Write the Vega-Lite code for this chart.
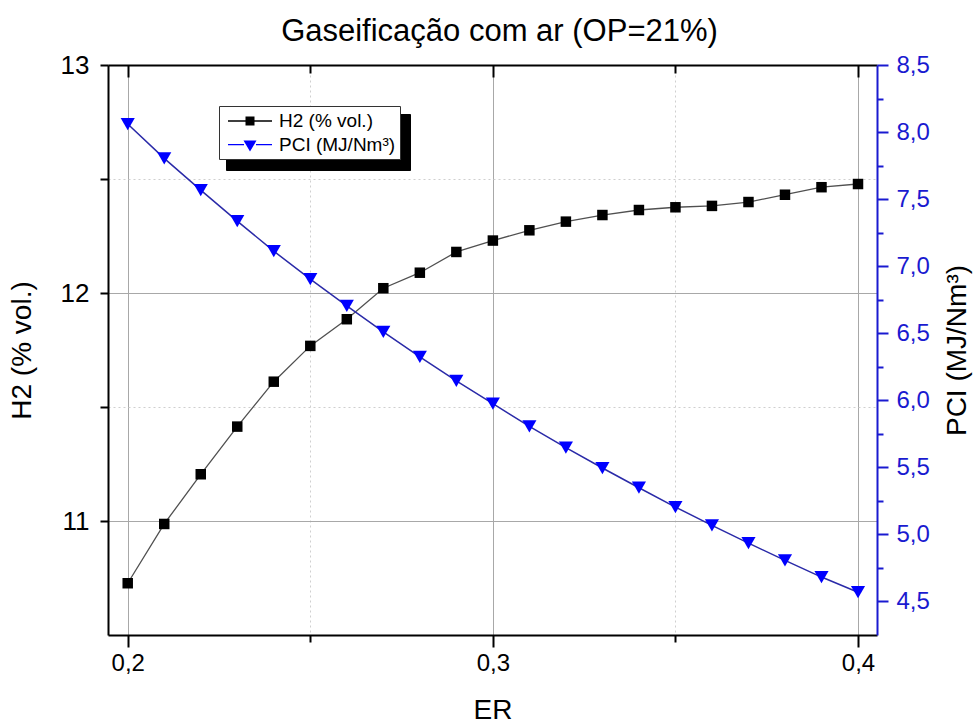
{
  "$schema": "https://vega.github.io/schema/vega-lite/v6.json",
  "width": 769,
  "height": 570,
  "autosize": "none",
  "padding": {"left": 108, "top": 65, "right": 100, "bottom": 92},
  "background": "white",
  "title": {"text": "Gaseificação com ar (OP=21%)", "font": "Liberation Sans", "fontSize": 31, "fontWeight": "normal", "color": "black", "offset": 4, "dx": 7},
  "config": {"view": {"stroke": null}, "font": "Liberation Sans"},
  "data": {"values": [
    {"er": 0.20, "h2": 10.727, "pci": 8.06},
    {"er": 0.21, "h2": 10.987, "pci": 7.804},
    {"er": 0.22, "h2": 11.205, "pci": 7.567},
    {"er": 0.23, "h2": 11.414, "pci": 7.336},
    {"er": 0.24, "h2": 11.611, "pci": 7.112},
    {"er": 0.25, "h2": 11.768, "pci": 6.903},
    {"er": 0.26, "h2": 11.885, "pci": 6.704},
    {"er": 0.27, "h2": 12.021, "pci": 6.510},
    {"er": 0.28, "h2": 12.089, "pci": 6.323},
    {"er": 0.29, "h2": 12.180, "pci": 6.144},
    {"er": 0.30, "h2": 12.230, "pci": 5.975},
    {"er": 0.31, "h2": 12.275, "pci": 5.806},
    {"er": 0.32, "h2": 12.313, "pci": 5.647},
    {"er": 0.33, "h2": 12.342, "pci": 5.495},
    {"er": 0.34, "h2": 12.364, "pci": 5.348},
    {"er": 0.35, "h2": 12.376, "pci": 5.204},
    {"er": 0.36, "h2": 12.382, "pci": 5.067},
    {"er": 0.37, "h2": 12.399, "pci": 4.935},
    {"er": 0.38, "h2": 12.431, "pci": 4.806},
    {"er": 0.39, "h2": 12.464, "pci": 4.682},
    {"er": 0.40, "h2": 12.478, "pci": 4.569}
  ]},
  "layer": [
    {
      "data": {"values": [{"box": "H2 (% vol.)"}, {"box": "PCI (MJ/Nm³)"}]},
      "mark": {"type": "point", "filled": true, "opacity": 0, "color": "black"},
      "encoding": {
        "size": {"field": "box", "type": "ordinal",
          "scale": {"range": [400, 400]},
          "legend": {"orient": "none", "legendX": 118, "legendY": 49, "title": null, "zindex": 0,
            "labelExpr": "''", "labelFontSize": 19,
            "symbolOffset": 16, "labelOffset": 138, "padding": 4, "rowPadding": -12.4,
            "fillColor": "black", "strokeColor": "black",
            "symbolType": "square", "symbolFillColor": "black", "symbolStrokeColor": "black", "symbolOpacity": 1}}
      }
    },
    {
      "data": {"values": [{"series": "H2 (% vol.)"}, {"series": "PCI (MJ/Nm³)"}]},
      "mark": {"type": "point", "filled": true, "opacity": 0},
      "encoding": {
        "color": {"field": "series", "type": "nominal",
          "scale": {"domain": ["H2 (% vol.)", "PCI (MJ/Nm³)"], "range": ["black", "#0000ff"]},
          "legend": {"orient": "none", "legendX": 111, "legendY": 41, "title": null, "zindex": 1,
            "labelFontSize": 19, "labelFont": "Liberation Sans", "labelColor": "black",
            "symbolSize": 400, "symbolOffset": 16, "labelOffset": 18, "padding": 4, "rowPadding": 2.6,
            "fillColor": "white", "strokeColor": "#333333", "symbolOpacity": 1}},
        "shape": {"field": "series", "type": "nominal",
          "scale": {"domain": ["H2 (% vol.)", "PCI (MJ/Nm³)"],
            "range": ["M-2.2,-0.07H-0.45V0.07H-2.2ZM0.45,-0.07H2.2V0.07H0.45ZM-0.45,-0.45H0.45V0.45H-0.45Z",
                      "M-2.2,-0.07H-0.6V0.07H-2.2ZM0.6,-0.07H2.2V0.07H0.6ZM-0.65,-0.4H0.65L0,0.7Z"]},
          "legend": {"orient": "none", "legendX": 111, "legendY": 41, "title": null, "zindex": 1,
            "labelFontSize": 19, "labelFont": "Liberation Sans", "labelColor": "black",
            "symbolSize": 400, "symbolOffset": 16, "labelOffset": 18, "padding": 4, "rowPadding": 2.6,
            "fillColor": "white", "strokeColor": "#333333", "symbolOpacity": 1}}
      }
    },
    {
      "encoding": {
        "x": {"field": "er", "type": "quantitative",
          "scale": {"domain": [0.1946, 0.4052], "nice": false, "zero": false},
          "axis": {"orient": "bottom", "values": [0.2, 0.25, 0.3, 0.35, 0.4],
            "labelExpr": "(round(datum.value*100)%10==0) ? replace(format(datum.value,'.1f'),'.',',') : ''",
            "title": "ER", "titleFontSize": 28, "titleFontWeight": "normal", "titleColor": "black", "titlePadding": 21,
            "labelFontSize": 24, "labelColor": "black", "labelPadding": 4,
            "domainColor": "black", "domainWidth": 2,
            "tickColor": "black", "tickWidth": 2,
            "tickSize": {"condition": {"test": "round(datum.value*100)%10==0", "value": 12}, "value": 7},
            "grid": true,
            "gridColor": {"condition": {"test": "round(datum.value*100)%10==0", "value": "#a8a8a8"}, "value": "#cfcfcf"},
            "gridDash": {"condition": {"test": "round(datum.value*100)%10==0", "value": []}, "value": [2, 3]},
            "gridWidth": 1}},
        "y": {"field": "h2", "type": "quantitative",
          "scale": {"domain": [10.5, 13], "nice": false, "zero": false},
          "axis": {"orient": "left", "values": [11, 11.5, 12, 12.5, 13],
            "labelExpr": "(datum.value % 1 == 0) ? format(datum.value,'d') : ''",
            "title": "H2 (% vol.)", "titleFontSize": 28, "titleFontWeight": "normal", "titleColor": "black", "titlePadding": 24,
            "labelFontSize": 26, "labelColor": "black", "labelPadding": 11,
            "domainColor": "black", "domainWidth": 2,
            "tickColor": "black", "tickWidth": 2, "tickSize": 8,
            "grid": true,
            "gridColor": {"condition": {"test": "datum.value % 1 == 0", "value": "#a8a8a8"}, "value": "#cfcfcf"},
            "gridDash": {"condition": {"test": "datum.value % 1 == 0", "value": []}, "value": [2, 3]},
            "gridWidth": 1}}
      },
      "layer": [
        {"mark": {"type": "line", "color": "#505050", "strokeWidth": 1.3}},
        {"mark": {"type": "point", "shape": "square", "filled": true, "size": 110, "opacity": 1, "color": "black"}}
      ]
    },
    {
      "encoding": {
        "x": {"field": "er", "type": "quantitative",
          "scale": {"domain": [0.1946, 0.4052], "nice": false, "zero": false},
          "axis": {"orient": "top", "values": [0.2, 0.25, 0.3, 0.35, 0.4], "labels": false, "title": null,
            "domainColor": "black", "domainWidth": 2,
            "tickColor": "black", "tickWidth": 2,
            "tickSize": {"condition": {"test": "round(datum.value*100)%10==0", "value": -12}, "value": -8},
            "grid": false}},
        "y": {"field": "pci", "type": "quantitative",
          "scale": {"domain": [4.25, 8.5], "nice": false, "zero": false},
          "axis": {"orient": "right", "values": [4.5, 4.75, 5, 5.25, 5.5, 5.75, 6, 6.25, 6.5, 6.75, 7, 7.25, 7.5, 7.75, 8, 8.25, 8.5],
            "labelExpr": "(round(datum.value*4)%2==0) ? replace(format(datum.value,'.1f'),'.',',') : ''",
            "title": "PCI (MJ/Nm³)", "titleFontSize": 28, "titleFontWeight": "normal", "titleColor": "black", "titlePadding": 42, "titleAngle": -90,
            "labelFontSize": 24, "labelColor": "#1a1ad0", "labelPadding": 8,
            "domainColor": "#1a1ad0", "domainWidth": 2,
            "tickColor": "#1a1ad0", "tickWidth": 2,
            "tickSize": {"condition": {"test": "round(datum.value*4)%2==0", "value": 11}, "value": 6},
            "grid": false}}
      },
      "layer": [
        {"mark": {"type": "line", "color": "#2a2aa8", "strokeWidth": 1.5}},
        {"mark": {"type": "point", "shape": "triangle-down", "filled": true, "size": 200, "opacity": 1, "color": "#0000ff"}}
      ]
    }
  ],
  "resolve": {"scale": {"y": "independent"}, "axis": {"x": "independent"}}
}
